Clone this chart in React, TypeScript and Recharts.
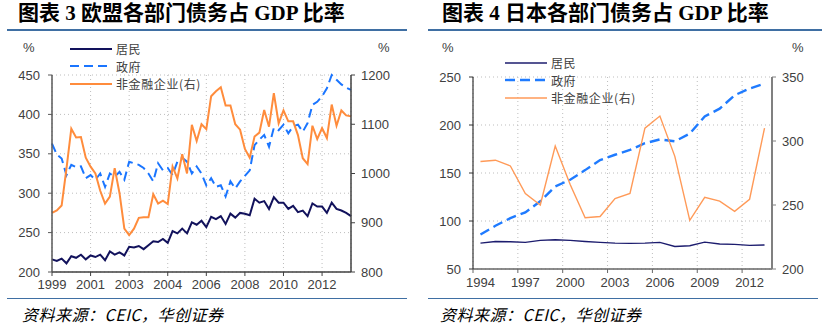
import React from "react";
import { LineChart, Line, XAxis, YAxis, CartesianGrid } from "recharts";

// ---- EU: quarterly, 1999Q1 onwards (index on x) ----
const euTickIndex = [0, 8, 16, 24, 32, 40, 48, 56];
const euTickLabels = ["1999", "2001", "2003", "2004", "2006", "2008", "2010", "2012"];

const euHousehold = [
  216, 214, 217, 211, 220, 218, 222, 216, 221, 219,
  222, 215, 226, 222, 225, 221, 232, 231, 233, 229,
  234, 239, 238, 242, 237, 252, 249, 255, 249, 263,
  260, 265, 257, 270, 267, 271, 261, 274, 269, 275,
  274, 272, 293, 288, 290, 280, 295, 288, 288, 280,
  284, 276, 278, 271, 287, 283, 283, 275, 288, 280,
  278, 275, 271,
];
const euGovernment = [
  363, 349, 344, 323, 336, 333, 334, 319, 323, 317,
  325, 308, 325, 321, 327, 317, 340, 338, 336, 332,
  325, 315, 338, 329, 332, 323, 340, 345, 340, 325,
  334, 325, 310, 319, 308, 310, 296, 315, 306, 315,
  322, 329, 361, 368, 374, 359, 383, 380, 387, 376,
  385, 387, 378, 389, 412, 416, 423, 433, 450, 444,
  438, 434, 431,
];
const euCorporate = [
  920, 925, 935, 1010, 1091, 1073, 1074, 1032, 1014, 1000,
  965, 939, 953, 1011, 960, 888, 875, 888, 910, 911,
  911, 958, 939, 945, 938, 1014, 990, 1039, 1000, 1099,
  1066, 1100, 1090, 1157, 1167, 1175, 1138, 1138, 1100, 1089,
  1050, 1032, 1075, 1083, 1129, 1095, 1163, 1102, 1128, 1106,
  1106, 1078, 1031, 1019, 1097, 1070, 1092, 1072, 1140, 1097,
  1128, 1118, 1116,
];

// ---- Japan: annual ----
const jpYears = [
  1994, 1995, 1996, 1997, 1998, 1999, 2000, 2001, 2002, 2003,
  2004, 2005, 2006, 2007, 2008, 2009, 2010, 2011, 2012, 2013,
];
const jpTickLabels = ["1994", "1997", "2000", "2003", "2006", "2009", "2012"];
const jpHousehold = [77, 78.7, 78.4, 77.7, 79.8, 80.5, 79.8, 78.7, 77.7, 77, 76.7, 77, 77.7, 73.5, 74.2, 78, 76, 75.6, 74.6, 75];
const jpGovernment = [86, 95, 103, 109, 120.5, 136, 143, 153, 163.5, 169, 174, 181, 185, 183, 191, 209, 217, 231, 238, 243];
const jpCorporate = [284, 285, 280.5, 259, 250, 296, 266, 240, 241, 255, 259, 310, 319.5, 288, 238, 256, 253, 245, 254.5, 310];

const euData = euHousehold.map((v, i) => ({
  i,
  household: v,
  government: euGovernment[i],
  corporate: euCorporate[i],
}));

const jpData = jpYears.map((y, k) => ({
  year: y,
  household: jpHousehold[k],
  government: jpGovernment[k],
  corporate: jpCorporate[k],
}));
// tick marks sit on the category boundaries, labels in the middle of the year
const jpTicks = jpTickLabels.map((l) => Number(l) - 0.5);

const SANS = "'Liberation Sans', Arial, sans-serif";
const CJK = "'Noto Sans CJK SC', sans-serif";
const tickStyle = { fill: "#404040", fontSize: 13, fontFamily: SANS };
const grid = "#bdbdbd";
const rule = "#3f6fa3";

const JpTick = (props: any) => {
  const { x, y, payload } = props;
  const label = jpTickLabels[jpTicks.indexOf(payload.value)];
  return (
    <text x={x + 7.5} y={y} dy="0.71em" textAnchor="middle" {...tickStyle}>
      {label}
    </text>
  );
};

function LegendRows({ left, top, rows }: { left: number; top: number; rows: any[] }) {
  return (
    <div style={{ position: "absolute", left, top }}>
      {rows.map((r, k) => (
        <div key={k} style={{ display: "flex", alignItems: "center", height: 17.5 }}>
          <svg width={42} height={6}>
            <line x1={0} y1={3} x2={42} y2={3} stroke={r.color} strokeWidth={r.w} strokeDasharray={r.dash} />
          </svg>
          <span
            style={{
              marginLeft: 4,
              fontSize: 12,
              letterSpacing: 0.6,
              fontFamily: CJK,
              color: "#404040",
              lineHeight: "17px",
            }}
          >
            {r.name}
          </span>
        </div>
      ))}
    </div>
  );
}

const abs = (style: React.CSSProperties): React.CSSProperties => ({ position: "absolute", ...style });

export default function App() {
  const titleStyle: React.CSSProperties = {
    fontSize: 21,
    fontWeight: "bold",
    fontFamily: "'Liberation Serif', " + CJK,
    color: "#000",
    whiteSpace: "nowrap",
    lineHeight: "26px",
  };
  const srcStyle: React.CSSProperties = {
    fontSize: 16,
    letterSpacing: 0.5,
    fontStyle: "italic",
    fontFamily: CJK,
    color: "#000",
    whiteSpace: "nowrap",
    lineHeight: "20px",
  };
  const pct: React.CSSProperties = { fontSize: 13, fontFamily: SANS, color: "#404040", lineHeight: "16px" };

  return (
    <div style={{ position: "absolute", left: 0, top: 0, width: 831, height: 331, background: "#fff", overflow: "hidden" }}>
      {/* EU chart */}
      <div style={abs({ left: 0, top: 0 })}>
        <LineChart width={415} height={331} data={euData} margin={{ top: 75, right: 24, bottom: 34, left: 12 }}>
          <CartesianGrid yAxisId="left" stroke={grid} strokeDasharray="1 3" />
          <XAxis
            dataKey="i"
            type="number"
            domain={[0, 62]}
            ticks={euTickIndex}
            interval={0}
            tickFormatter={(v: number) => euTickLabels[euTickIndex.indexOf(v)]}
            height={25}
            tickSize={4}
            tickMargin={4}
            axisLine={{ stroke: "#404040", strokeWidth: 1.5 }}
            tickLine={{ stroke: "#404040" }}
            tick={tickStyle}
          />
          <YAxis
            yAxisId="left"
            domain={[200, 450]}
            ticks={[200, 250, 300, 350, 400, 450]}
            interval={0}
            width={40}
            tickSize={4}
            tickMargin={8}
            axisLine={{ stroke: "#595959", strokeWidth: 1.5 }}
            tickLine={{ stroke: "#595959" }}
            tick={tickStyle}
          />
          <YAxis
            yAxisId="right"
            orientation="right"
            domain={[800, 1200]}
            ticks={[800, 900, 1000, 1100, 1200]}
            interval={0}
            width={40}
            tickSize={4}
            tickMargin={6}
            axisLine={{ stroke: "#404040", strokeWidth: 1.5 }}
            tickLine={{ stroke: "#404040" }}
            tick={tickStyle}
          />
          <Line yAxisId="left" type="linear" dataKey="household" stroke="#12125c" strokeWidth={2} dot={false} isAnimationActive={false} />
          <Line yAxisId="left" type="linear" dataKey="government" stroke="#1a75ff" strokeWidth={2} strokeDasharray="9 5" dot={false} isAnimationActive={false} />
          <Line yAxisId="right" type="linear" dataKey="corporate" stroke="#ff8c3c" strokeWidth={2} dot={false} isAnimationActive={false} />
        </LineChart>
      </div>

      {/* Japan chart */}
      <div style={abs({ left: 415, top: 0 })}>
        <LineChart width={416} height={331} data={jpData} margin={{ top: 77, right: 19, bottom: 37, left: 18 }}>
          <CartesianGrid yAxisId="left" stroke={grid} strokeDasharray="1 3" />
          <XAxis
            dataKey="year"
            type="number"
            domain={[1993.5, 2013.5]}
            ticks={jpTicks}
            interval={0}
            height={25}
            tickSize={4}
            tickMargin={5}
            axisLine={{ stroke: "#666", strokeWidth: 1.5 }}
            tickLine={{ stroke: "#666" }}
            tick={<JpTick />}
          />
          <YAxis
            yAxisId="left"
            domain={[50, 250]}
            ticks={[50, 100, 150, 200, 250]}
            interval={0}
            width={40}
            tickSize={4}
            tickMargin={8}
            axisLine={{ stroke: "#333", strokeWidth: 1.2 }}
            tickLine={{ stroke: "#333" }}
            tick={tickStyle}
          />
          <YAxis
            yAxisId="right"
            orientation="right"
            domain={[200, 350]}
            ticks={[200, 250, 300, 350]}
            interval={0}
            width={40}
            tickSize={4}
            tickMargin={6}
            axisLine={{ stroke: "#808080", strokeWidth: 2 }}
            tickLine={{ stroke: "#808080" }}
            tick={tickStyle}
          />
          <Line yAxisId="left" type="linear" dataKey="household" stroke="#1c1c6e" strokeWidth={1.4} dot={false} isAnimationActive={false} />
          <Line yAxisId="left" type="linear" dataKey="government" stroke="#1f7bff" strokeWidth={2.4} strokeDasharray="10 5" dot={false} isAnimationActive={false} />
          <Line yAxisId="right" type="linear" dataKey="corporate" stroke="#ff9a58" strokeWidth={1.4} dot={false} isAnimationActive={false} />
        </LineChart>
      </div>

      {/* titles and rules */}
      <div style={abs({ left: 18, top: 0, ...titleStyle })}>图表 3 欧盟各部门债务占 GDP 比率</div>
      <div style={abs({ left: 442, top: 0, ...titleStyle })}>图表 4 日本各部门债务占 GDP 比率</div>
      <div style={abs({ left: 7, top: 29, width: 400, height: 1.5, background: rule })} />
      <div style={abs({ left: 428, top: 29, width: 394, height: 1.5, background: rule })} />
      <div style={abs({ left: 7, top: 297.5, width: 400, height: 1.5, background: rule })} />
      <div style={abs({ left: 428, top: 297.5, width: 390, height: 1.5, background: rule })} />

      {/* unit labels */}
      <div style={abs({ left: 23, top: 40, ...pct })}>%</div>
      <div style={abs({ left: 378, top: 40, ...pct })}>%</div>
      <div style={abs({ left: 442, top: 40, ...pct })}>%</div>
      <div style={abs({ left: 792, top: 40, ...pct })}>%</div>

      <LegendRows
        left={70}
        top={40}
        rows={[
          { name: "居民", color: "#12125c", w: 2 },
          { name: "政府", color: "#1a75ff", w: 2, dash: "9 5" },
          { name: "非金融企业(右)", color: "#ff8c3c", w: 2 },
        ]}
      />
      <LegendRows
        left={505}
        top={54}
        rows={[
          { name: "居民", color: "#1c1c6e", w: 1.4 },
          { name: "政府", color: "#1f7bff", w: 2.4, dash: "10 5" },
          { name: "非金融企业(右)", color: "#ff9a58", w: 1.4 },
        ]}
      />

      {/* sources */}
      <div style={abs({ left: 22, top: 304, ...srcStyle })}>资料来源：CEIC，华创证券</div>
      <div style={abs({ left: 440, top: 304, ...srcStyle })}>资料来源：CEIC，华创证券</div>
    </div>
  );
}
